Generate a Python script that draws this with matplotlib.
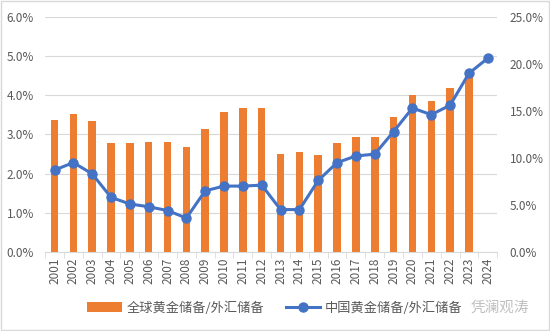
import matplotlib.pyplot as plt
import numpy as np
from matplotlib.ticker import PercentFormatter, FixedLocator

plt.rcParams['font.family'] = ['Noto Sans CJK SC', 'DejaVu Sans']

years = [str(y) for y in range(2001, 2025)]

# global gold reserves / FX reserves (%), no value for 2024
world_ratio = [3.37, 3.52, 3.34, 2.78, 2.78, 2.80, 2.80, 2.68, 3.14, 3.57, 3.67, 3.67,
               2.50, 2.55, 2.47, 2.78, 2.93, 2.93, 3.44, 4.00, 3.85, 4.18, 4.50, np.nan]

# China gold reserves / FX reserves (%)
china_ratio = [8.7, 9.5, 8.3, 5.8, 5.1, 4.8, 4.4, 3.6, 6.5, 7.0, 7.0, 7.1,
               4.5, 4.5, 7.6, 9.5, 10.2, 10.4, 12.8, 15.3, 14.6, 15.6, 19.0, 20.6]

bar_color = '#ED7D31'
line_color = '#4472C4'
text_color = '#595959'
grid_color = '#D9D9D9'

fig = plt.figure(figsize=(5.5, 3.31), dpi=100)
ax = fig.add_axes([0.082, 0.239, 0.822, 0.71])
ax2 = ax.twinx()

x = np.arange(len(years))
ax.bar(x, world_ratio, width=0.4, color=bar_color, label='全球黄金储备/外汇储备', zorder=2)
ax2.plot(x, china_ratio, color=line_color, lw=2.2, marker='o', ms=6.5,
         label='中国黄金储备/外汇储备', zorder=3)

ax.set_xlim(-0.5, len(years) - 0.5)
ax.set_ylim(0, 6)
ax2.set_ylim(0, 25)
ax.set_yticks(np.arange(0, 6.1, 1))
ax2.set_yticks(np.arange(0, 25.1, 5))
ax.yaxis.set_major_formatter(PercentFormatter(decimals=1))
ax2.yaxis.set_major_formatter(PercentFormatter(decimals=1))

ax.set_xticks(x)
ax.set_xticklabels(years, rotation=90)
ax.xaxis.set_minor_locator(FixedLocator(np.arange(-0.5, len(years), 1)))
ax.tick_params(axis='x', which='major', length=0, pad=4, labelsize=8.5, labelcolor=text_color)
ax.tick_params(axis='x', which='minor', length=4, color=grid_color)
ax.tick_params(axis='y', length=0, pad=8, labelsize=8.5, labelcolor=text_color)
ax2.tick_params(axis='y', length=0, pad=9, labelsize=8.5, labelcolor=text_color)

ax.grid(axis='y', color=grid_color, lw=0.8, zorder=0)
ax.set_axisbelow(True)
for a in (ax, ax2):
    for s in a.spines.values():
        s.set_visible(False)
ax.spines['bottom'].set_visible(True)
ax.spines['bottom'].set_color(grid_color)

h1, l1 = ax.get_legend_handles_labels()
h2, l2 = ax2.get_legend_handles_labels()
fig.legend(h1 + h2, l1 + l2, loc='center', bbox_to_anchor=(0.5, 0.07), ncol=2,
           frameon=False, fontsize=9.5, labelcolor=text_color, handlelength=2.6,
           columnspacing=1.6, handletextpad=0.4)

fig.text(0.855, 0.07, '凭澜观涛', fontsize=10.5, color='#BFBFBF', va='center')

fig.patches.append(plt.Rectangle((0.002, 0.003), 0.996, 0.994, transform=fig.transFigure,
                                 fill=False, edgecolor='#D9D9D9', lw=1))

fig.savefig('out.png', dpi=100)
